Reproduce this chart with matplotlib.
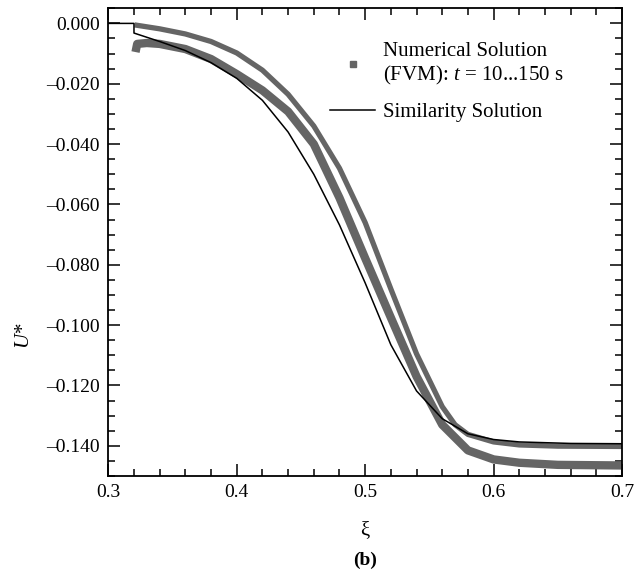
import matplotlib
matplotlib.use("Agg")
import matplotlib.pyplot as plt
from matplotlib.lines import Line2D
from matplotlib.ticker import MultipleLocator, FuncFormatter

plt.rcParams['font.family'] = ['Liberation Serif', 'DejaVu Serif']
plt.rcParams['mathtext.fontset'] = 'custom'
plt.rcParams['mathtext.rm'] = 'Liberation Serif'
plt.rcParams['mathtext.it'] = 'Liberation Serif:italic'

# similarity solution
xi_sim = [0.300, 0.320, 0.320, 0.340, 0.360, 0.380, 0.400, 0.420, 0.440, 0.460,
          0.480, 0.500, 0.520, 0.540, 0.560, 0.580, 0.600, 0.620, 0.660, 0.700]
u_sim = [0.0, 0.0, -0.0032, -0.0060, -0.0090, -0.0130, -0.0182, -0.0255, -0.0360,
         -0.0500, -0.0668, -0.0860, -0.1065, -0.1218, -0.1310, -0.1360, -0.1379,
         -0.1387, -0.1392, -0.1393]

# numerical solution (FVM), first group of time levels
xi_num_a = [0.3205, 0.340, 0.360, 0.380, 0.400, 0.420, 0.440, 0.460, 0.480, 0.500,
            0.520, 0.540, 0.560, 0.570, 0.580, 0.600, 0.620, 0.650, 0.700]
u_num_a = [-0.0005, -0.0018, -0.0035, -0.0060, -0.0098, -0.0155, -0.0235, -0.0340,
           -0.0480, -0.0660, -0.0880, -0.1095, -0.1270, -0.1330, -0.1362, -0.1387,
           -0.1397, -0.1401, -0.1402]

# numerical solution (FVM), second group of time levels
xi_num_b = [0.3212, 0.3225, 0.330, 0.340, 0.360, 0.380, 0.400, 0.420, 0.440, 0.460,
            0.480, 0.500, 0.520, 0.540, 0.560, 0.580, 0.600, 0.620, 0.650, 0.700]
u_num_b = [-0.0095, -0.0068, -0.0065, -0.0068, -0.0085, -0.0118, -0.0168, -0.0222,
           -0.0292, -0.0400, -0.0578, -0.0778, -0.0975, -0.1170, -0.1330, -0.1415,
           -0.1445, -0.1456, -0.1463, -0.1465]

gray = '#656565'

fig = plt.figure(figsize=(6.37, 5.69), dpi=100)
ax = fig.add_axes([0.170, 0.1634, 0.8065, 0.822])

ax.plot(xi_num_a, u_num_a, color=gray, lw=3.8, solid_capstyle='butt')
ax.plot(xi_num_b, u_num_b, color=gray, lw=6.0, solid_capstyle='butt')
ax.plot(xi_sim, u_sim, color='black', lw=1.1)

ax.set_xlim(0.3, 0.7)
ax.set_ylim(-0.150, 0.005)
ax.set_xticks([0.3, 0.4, 0.5, 0.6, 0.7])
ax.set_yticks([0.0, -0.02, -0.04, -0.06, -0.08, -0.10, -0.12, -0.14])
ax.xaxis.set_minor_locator(MultipleLocator(0.02))
ax.yaxis.set_minor_locator(MultipleLocator(0.005))
ax.xaxis.set_major_formatter(FuncFormatter(lambda v, p: '%.1f' % v))
ax.yaxis.set_major_formatter(
    FuncFormatter(lambda v, p: ('%.3f' % v).replace('-', '\u2013') if abs(v) > 1e-9 else '0.000'))
ax.tick_params(which='both', direction='in', top=True, right=True, labelsize=14, width=1.1)
ax.tick_params(which='major', length=8.5, pad=6)
ax.tick_params(which='minor', length=5)
for s in ax.spines.values():
    s.set_linewidth(1.3)

ax.set_xlabel('\u03be', fontsize=15, labelpad=14)
ax.set_ylabel('$U$*', fontsize=15)
ax.yaxis.set_label_coords(-0.145, 0.30)
fig.text(0.5 * (0.170 + 0.9765), 0.015, '(b)', ha='center', va='center',
         fontsize=14, fontweight='bold')

handles = [Line2D([], [], ls='none', marker='s', ms=4.5, color=gray),
           Line2D([], [], color='black', lw=1.1)]
labels = ['Numerical Solution\n(FVM): $t$ = 10...150 s', 'Similarity Solution']
ax.legend(handles, labels, loc='upper left', bbox_to_anchor=(0.416, 0.946), frameon=False,
          fontsize=15, handlelength=2.15, handletextpad=0.4, labelspacing=0.73,
          borderaxespad=0)

fig.savefig('out.png', dpi=100)
